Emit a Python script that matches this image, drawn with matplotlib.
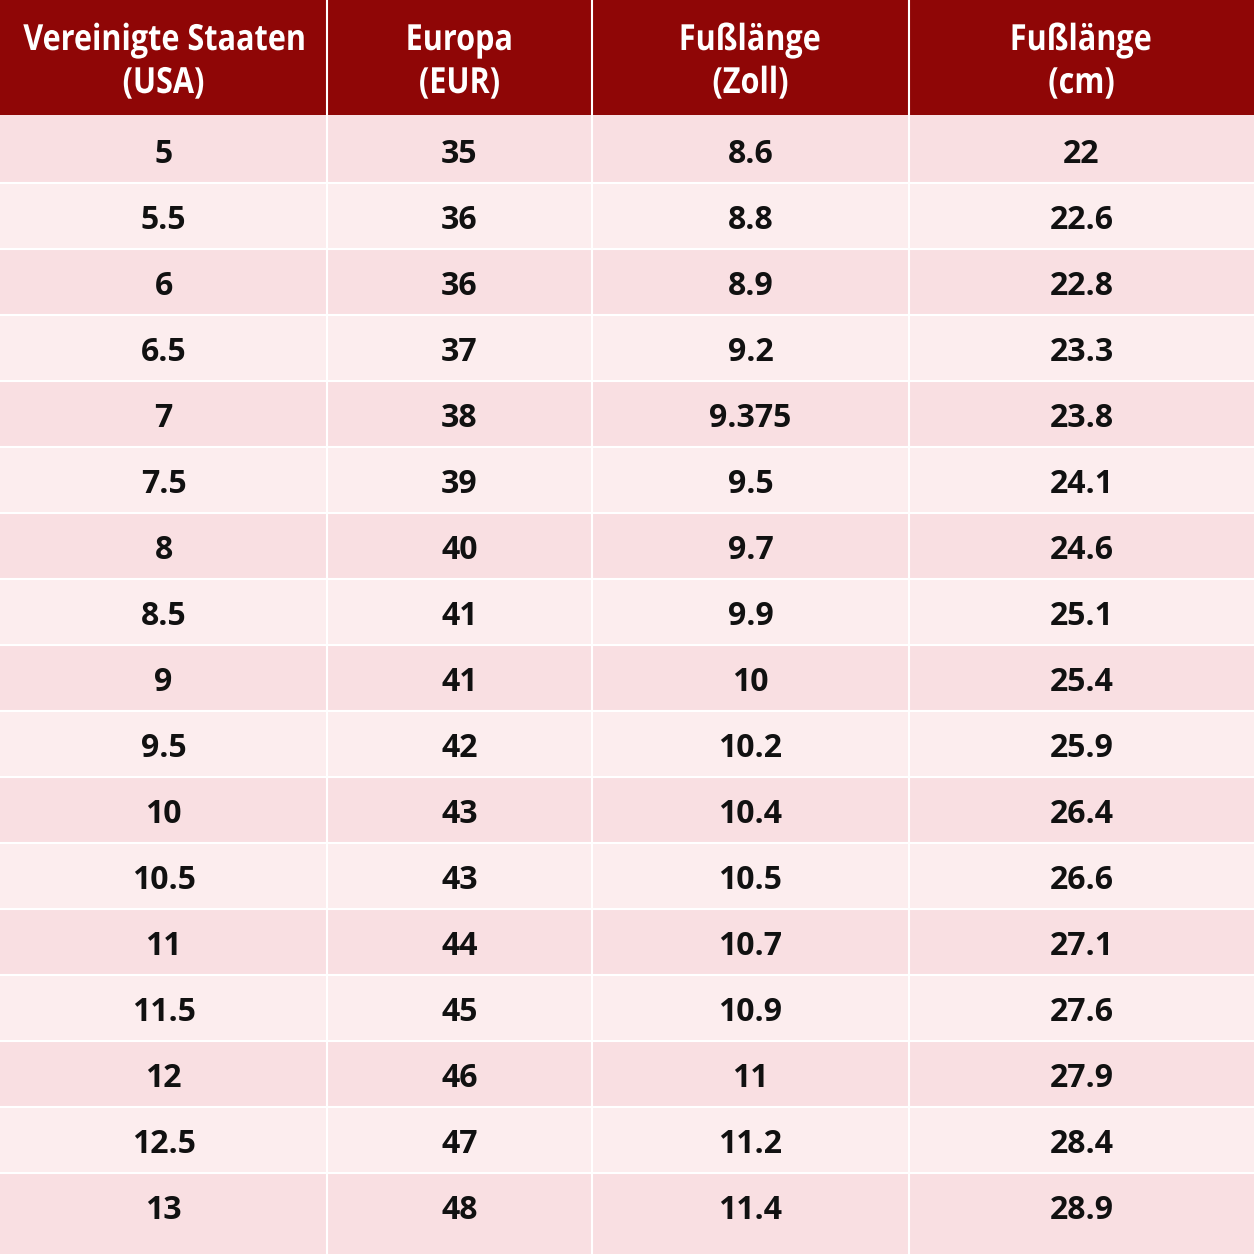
import matplotlib.pyplot as plt
import matplotlib.patches as patches
from matplotlib.textpath import TextPath
from matplotlib.font_manager import FontProperties
from matplotlib.transforms import Affine2D

headers = [('Vereinigte Staaten', '(USA)'), ('Europa', '(EUR)'),
           ('Fußlänge', '(Zoll)'), ('Fußlänge', '(cm)')]
us_sizes = ['5', '5.5', '6', '6.5', '7', '7.5', '8', '8.5', '9', '9.5',
            '10', '10.5', '11', '11.5', '12', '12.5', '13']
eu_sizes = ['35', '36', '36', '37', '38', '39', '40', '41', '41', '42',
            '43', '43', '44', '45', '46', '47', '48']
inches = ['8.6', '8.8', '8.9', '9.2', '9.375', '9.5', '9.7', '9.9', '10', '10.2',
          '10.4', '10.5', '10.7', '10.9', '11', '11.2', '11.4']
cm = ['22', '22.6', '22.8', '23.3', '23.8', '24.1', '24.6', '25.1', '25.4', '25.9',
      '26.4', '26.6', '27.1', '27.6', '27.9', '28.4', '28.9']

columns = [us_sizes, eu_sizes, inches, cm]
col_edges = [0, 327, 592, 909, 1254]
header_h = 115
body_top = 117
row_h = 66
n_rows = len(us_sizes)

plt.rcParams['font.family'] = ['Open Sans', 'DejaVu Sans']

fig = plt.figure(figsize=(12.54, 12.54), dpi=100)
ax = fig.add_axes([0, 0, 1, 1])
ax.set_xlim(0, 1254)
ax.set_ylim(1254, 0)
ax.axis('off')

# header band
ax.add_patch(patches.Rectangle((0, 0), 1254, header_h, facecolor='#8f0606', edgecolor='none'))

# header text, slightly condensed bold
hprop = FontProperties(family='Open Sans', weight='bold')
for j, (l1, l2) in enumerate(headers):
    xc = (col_edges[j] + col_edges[j + 1]) / 2
    for txt, base in [(l1, 50), (l2, 93)]:
        tp = TextPath((0, 0), txt, size=36, prop=hprop)
        ext = tp.get_extents()
        sx = 0.85
        tr = Affine2D().scale(sx, -1).translate(xc - sx * (ext.x0 + ext.x1) / 2, base)
        ax.add_patch(patches.PathPatch(tp, transform=tr + ax.transData,
                                       facecolor='white', edgecolor='none'))

# body rows
for i in range(n_rows):
    y0 = body_top + i * row_h
    top = header_h if i == 0 else y0
    bottom = 1254 if i == n_rows - 1 else y0 + row_h
    color = '#f9dfe2' if i % 2 == 0 else '#fcedee'
    ax.add_patch(patches.Rectangle((0, top), 1254, bottom - top, facecolor=color, edgecolor='none'))
    if i > 0:
        ax.plot([0, 1254], [y0, y0], color='white', lw=1.5)
    for j, col in enumerate(columns):
        xc = (col_edges[j] + col_edges[j + 1]) / 2
        ax.text(xc, y0 + 37.5, col[i], ha='center', va='center',
                color='#111111', fontsize=23, fontweight='bold')

# column separators
for x in col_edges[1:-1]:
    ax.plot([x, x], [0, 1254], color='white', lw=1.5)

fig.savefig('out.png', dpi=100)
